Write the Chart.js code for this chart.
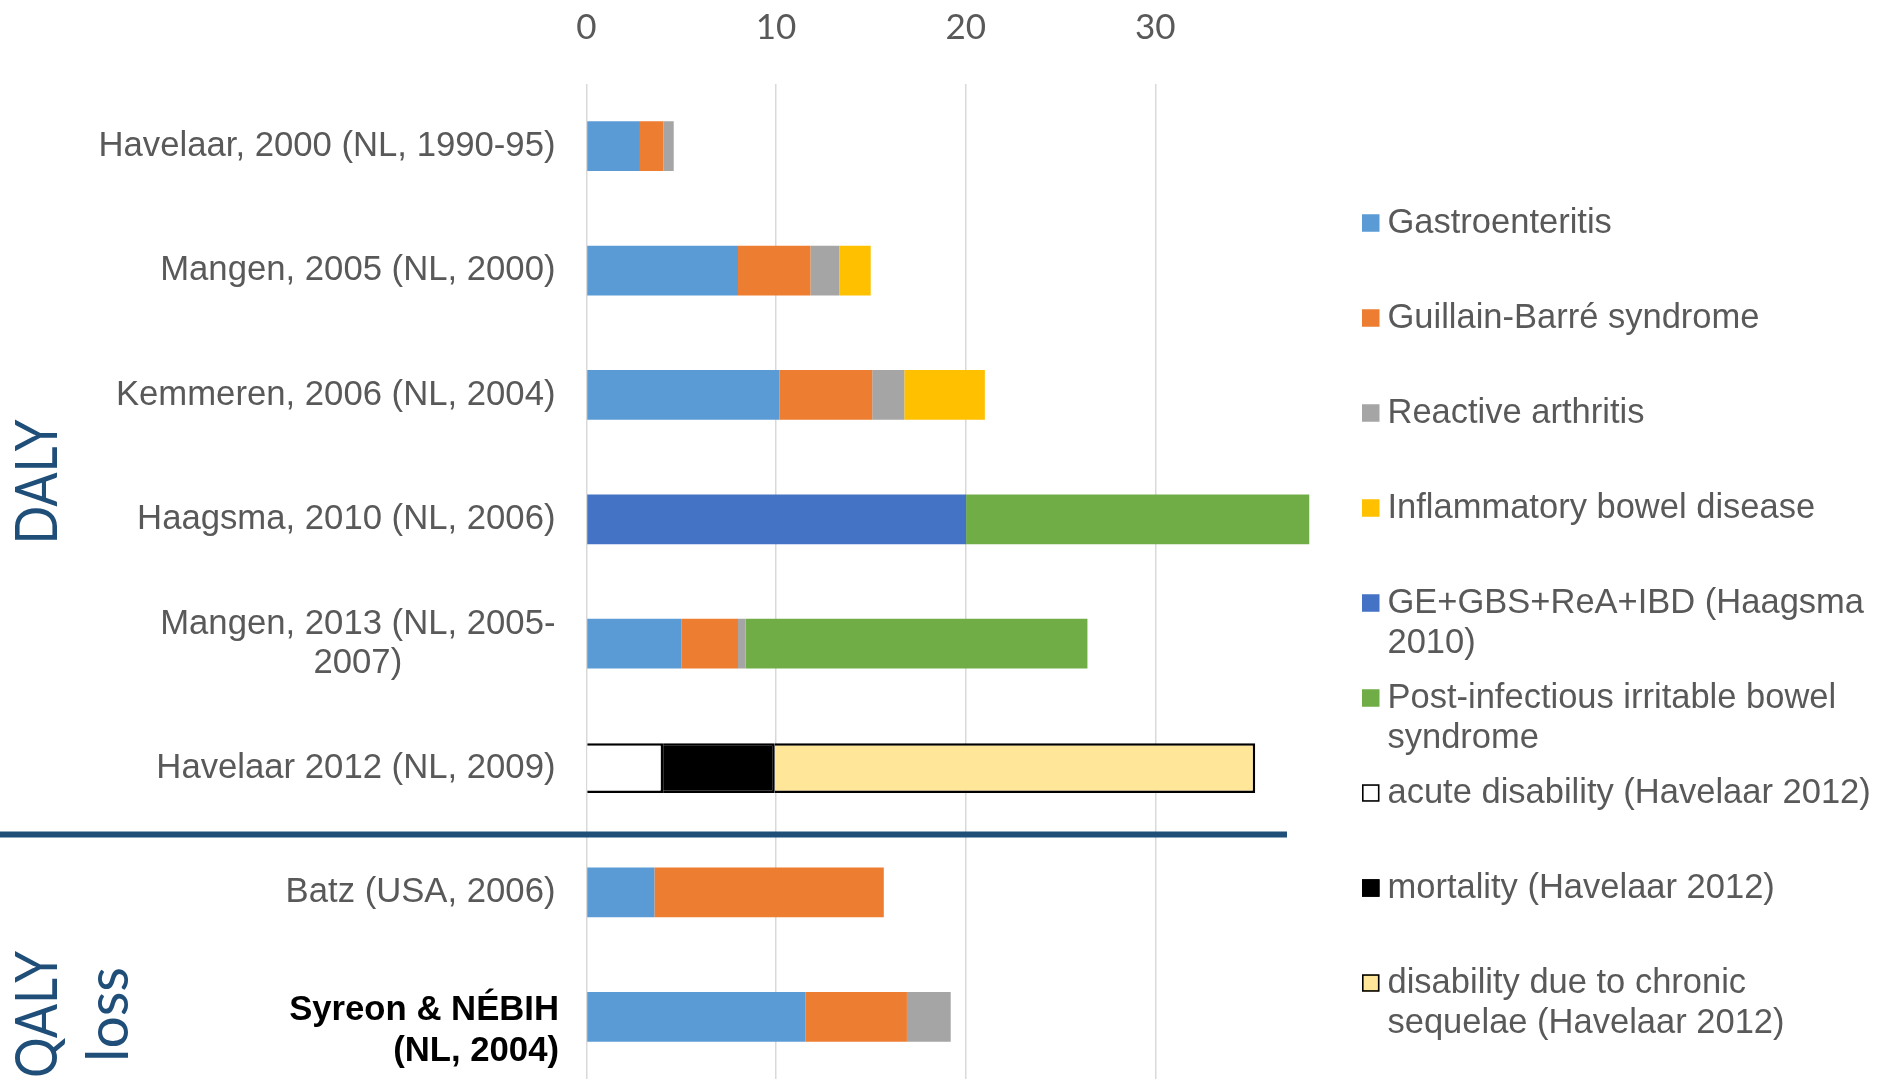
<!DOCTYPE html>
<html>
<head>
<meta charset="utf-8">
<script src="https://cdn.jsdelivr.net/npm/chart.js@4.4.1/dist/chart.umd.min.js"></script>
<style>
html,body{margin:0;padding:0;background:#ffffff;overflow:hidden}
canvas{display:block}
</style>
</head>
<body>
<canvas id="c" width="1877" height="1079"></canvas>
<script>
// ---------- data ----------
const categories = [
  "Havelaar, 2000 (NL, 1990-95)",
  "Mangen, 2005 (NL, 2000)",
  "Kemmeren, 2006 (NL, 2004)",
  "Haagsma, 2010 (NL, 2006)",
  ["Mangen, 2013 (NL, 2005-", "2007)"],
  "Havelaar 2012 (NL, 2009)",
  "Batz (USA, 2006)",
  ["Syreon & NÉBIH", "(NL, 2004)"]
];
const seriesNames = [
  "Gastroenteritis",
  "Guillain-Barré syndrome",
  "Reactive arthritis",
  "Inflammatory bowel disease",
  "GE+GBS+ReA+IBD (Haagsma 2010)",
  "Post-infectious irritable bowel syndrome",
  "acute disability (Havelaar 2012)",
  "mortality (Havelaar 2012)",
  "disability due to chronic sequelae (Havelaar 2012)"
];
const gastroenteritis   = [2.82, 7.99, 10.17, null, 5.00, null, 3.58, 11.54];
const guillainBarre     = [1.24, 3.82, 4.90, null, 2.99, null, 12.10, 5.36];
const reactiveArthritis = [0.54, 1.53, 1.69, null, 0.40, null, null, 2.31];
const inflammatoryBowel = [null, 1.65, 4.25, null, null, null, null, null];
const haagsmaCombined   = [null, null, null, 20.02, null, null, null, null];
const postInfectiousIBS = [null, null, null, 18.10, 18.03, null, null, null];
const acuteDisability   = [null, null, null, null, null, 4.04, null, null];
const mortality         = [null, null, null, null, null, 5.89, null, null];
const chronicSequelae   = [null, null, null, null, null, 25.34, null, null];
const xTicks = [0, 10, 20, 30];
const groupLabels = [["DALY"], ["QALY", "loss"]];

// ---------- styles ----------
const colors = ["#5B9BD5", "#ED7D31", "#A5A5A5", "#FFC000", "#4472C4", "#70AD47", "#FFFFFF", "#000000", "#FFE699"];
const bordered = [false, false, false, false, false, false, true, true, true];
const seriesData = [gastroenteritis, guillainBarre, reactiveArthritis, inflammatoryBowel,
  haagsmaCombined, postInfectiousIBS, acuteDisability, mortality, chronicSequelae];

const datasets = seriesData.map((d, i) => ({
  label: seriesNames[i],
  data: d,
  backgroundColor: colors[i],
  borderColor: bordered[i] ? "#000000" : colors[i],
  borderWidth: bordered[i] ? 2.5 : 0,
  barPercentage: 0.399,
  categoryPercentage: 1.0
}));

function wrapText(ctx, text, maxW) {
  const words = text.split(" ");
  const lines = [];
  let cur = "";
  words.forEach(w => {
    const t = cur ? cur + " " + w : w;
    if (ctx.measureText(t).width > maxW && cur) { lines.push(cur); cur = w; }
    else cur = t;
  });
  if (cur) lines.push(cur);
  return lines;
}

const overlay = {
  id: "overlay",
  afterDraw(chart, args, o) {
    const ctx = chart.ctx;
    const ys = chart.scales.y;
    ctx.save();

    // category labels
    categories.forEach((lab, i) => {
      const lines = Array.isArray(lab) ? lab : [lab];
      const st = o.labelStyles[i] || {};
      ctx.font = (st.bold ? "bold " : "") + o.labelFont;
      ctx.fillStyle = st.color || o.labelColor;
      ctx.textBaseline = "middle";
      const right = st.right !== undefined ? st.right : o.labelRight;
      const maxW = Math.max(...lines.map(l => ctx.measureText(l).width));
      const cy = ys.getPixelForValue(i) + (st.dy || 0);
      const gap = st.lineGap || o.labelLineGap;
      lines.forEach((l, k) => {
        const ly = cy + (k - (lines.length - 1) / 2) * gap;
        if (st.align === "center") { ctx.textAlign = "center"; ctx.fillText(l, right - maxW / 2, ly); }
        else { ctx.textAlign = "right"; ctx.fillText(l, right, ly); }
      });
    });

    // separator line
    const sepY = (ys.getPixelForValue(o.sepAfter) + ys.getPixelForValue(o.sepAfter + 1)) / 2 + o.sepOffset;
    ctx.strokeStyle = o.sepColor;
    ctx.lineWidth = o.sepWidth;
    ctx.beginPath();
    ctx.moveTo(0, sepY);
    ctx.lineTo(o.sepRight, sepY);
    ctx.stroke();

    // group labels (rotated)
    ctx.font = o.groupFont;
    ctx.fillStyle = o.groupColor;
    ctx.textAlign = "center";
    ctx.textBaseline = "alphabetic";
    const baseScale = o.groupLen.DALY / ctx.measureText("DALY").width;
    groupLabels.forEach((lines, g) => {
      const pos = o.groupPos[g];
      lines.forEach((l, k) => {
        const sx = o.groupLen[l] ? o.groupLen[l] / ctx.measureText(l).width : baseScale;
        ctx.save();
        ctx.translate(pos.x + k * o.groupLineGap, pos.y);
        ctx.rotate(-Math.PI / 2);
        ctx.scale(sx, 1);
        ctx.fillText(l, 0, 0);
        ctx.restore();
      });
    });

    // legend
    ctx.font = o.legendFont;
    ctx.textAlign = "left";
    ctx.textBaseline = "middle";
    chart.data.datasets.forEach((ds, i) => {
      const cy = o.legendTop + i * o.legendGap;
      ctx.fillStyle = ds.backgroundColor;
      ctx.fillRect(o.legendBoxX, cy - o.legendBox / 2, o.legendBox, o.legendBox);
      if (ds.borderWidth > 0) {
        ctx.strokeStyle = "#000000";
        ctx.lineWidth = 1.6;
        ctx.strokeRect(o.legendBoxX + 0.8, cy - o.legendBox / 2 + 0.8, o.legendBox - 1.6, o.legendBox - 1.6);
      }
      ctx.fillStyle = o.legendColor;
      const lines = wrapText(ctx, ds.label, o.legendMaxW);
      lines.forEach((l, k) => ctx.fillText(l, o.legendTextX, cy + k * o.legendLineGap));
    });

    ctx.restore();
  }
};

const X_MAX = 38.5;

function build() {
  new Chart(document.getElementById("c"), {
    type: "bar",
    data: { labels: categories, datasets },
    plugins: [overlay],
    options: {
      indexAxis: "y",
      responsive: false,
      animation: false,
      devicePixelRatio: 1,
      events: [],
      layout: { padding: { left: 586.5, right: 1877 - (586.5 + X_MAX * 18.96), top: 0, bottom: 0 } },
      scales: {
        x: {
          position: "top",
          stacked: true,
          min: 0,
          max: X_MAX,
          afterFit(scale) { scale.height = 84; },
          afterBuildTicks(scale) { scale.ticks = xTicks.map(v => ({ value: v })); },
          grid: { color: "#D9D9D9", lineWidth: 1.5, drawTicks: false },
          border: { display: false },
          ticks: {
            color: "#595959",
            padding: 35,
            font: { family: "Lato, 'Open Sans', sans-serif", size: 35 }
          }
        },
        y: {
          stacked: true,
          display: false,
          grid: { display: false }
        }
      },
      plugins: {
        legend: { display: false },
        tooltip: { enabled: false },
        overlay: {
          labelFont: "34.7px 'Liberation Sans', Arial, sans-serif",
          labelColor: "#595959",
          labelRight: 555.5,
          labelLineGap: 39.5,
          labelStyles: {
            4: { align: "center" },
            7: { bold: true, color: "#000000", right: 559, dy: 14, lineGap: 41 }
          },
          sepAfter: 5,
          sepOffset: 4.3,
          sepRight: 1287,
          sepColor: "#1F4E79",
          sepWidth: 6,
          groupFont: "58px Lato, 'Open Sans', sans-serif",
          groupColor: "#1F4E79",
          groupLen: { DALY: 125, loss: 95 },
          groupLineGap: 71,
          groupPos: [{ x: 57, y: 482 }, { x: 57, y: 1014.5 }],
          legendFont: "34.5px 'Liberation Sans', Arial, sans-serif",
          legendColor: "#595959",
          legendBoxX: 1362,
          legendBox: 17.5,
          legendTextX: 1387.5,
          legendTop: 223,
          legendGap: 95,
          legendLineGap: 40,
          legendMaxW: 488
        }
      }
    }
  });
}

const fontLoads = [
  "35px Lato", "58px Lato", "34px 'Liberation Sans'", "bold 34px 'Liberation Sans'"
].map(f => document.fonts.load(f).catch(() => null));
Promise.all(fontLoads).then(build, build);
</script>
</body>
</html>
